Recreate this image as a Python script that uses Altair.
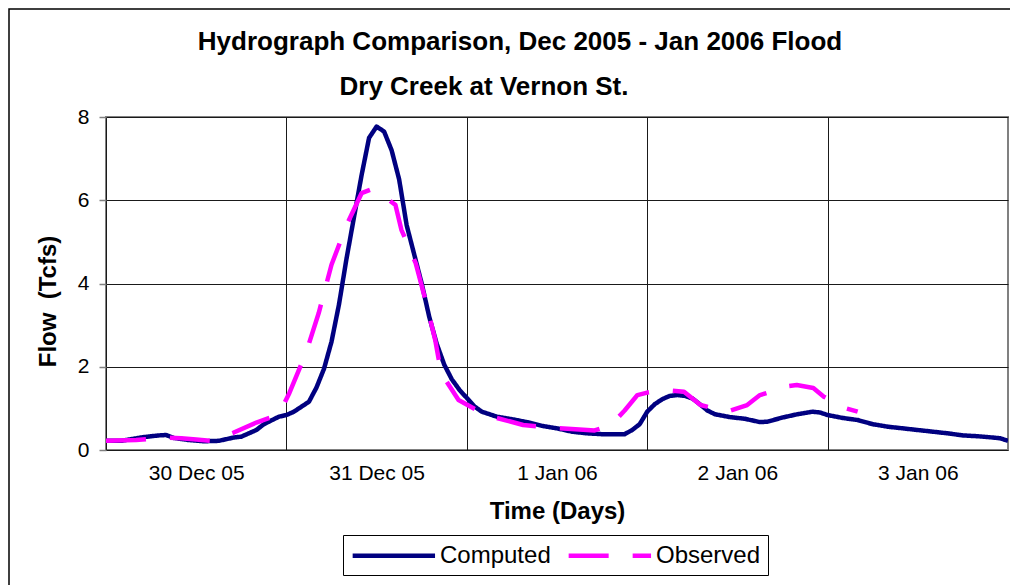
import altair as alt
import pandas as pd

# ---- data (hours since 30 Dec 2005 00:00, flow in Tcfs) ----
computed_hours = [0, 2, 4, 5, 7, 8, 9, 11, 13, 15, 17, 18, 20, 21, 23, 24, 25, 27, 28, 29,
                  30, 31, 32, 33, 34, 35, 36, 37, 38, 39, 40, 41, 42, 43, 44, 45, 46, 47, 48, 49,
                  50, 52, 54, 56, 58, 60, 62, 64, 66, 68, 69, 70, 71, 72, 73, 74, 75, 76, 77, 78,
                  79, 80, 81, 83, 85, 87, 88, 90, 92, 94, 95, 96, 98, 100, 102, 104, 106, 108, 110,
                  112, 114, 116, 118, 119, 120]
computed_flow = [0.22, 0.22, 0.28, 0.31, 0.35, 0.36, 0.29, 0.24, 0.21, 0.22, 0.30, 0.32, 0.48, 0.62,
                 0.80, 0.84, 0.92, 1.16, 1.50, 1.95, 2.6, 3.5, 4.6, 5.6, 6.6, 7.5, 7.77, 7.65, 7.2,
                 6.5, 5.4, 4.7, 4.0, 3.2, 2.55, 2.05, 1.7, 1.45, 1.25, 1.05, 0.92, 0.80, 0.74, 0.67,
                 0.58, 0.52, 0.44, 0.40, 0.38, 0.38, 0.38, 0.48, 0.62, 0.92, 1.10, 1.22, 1.30, 1.32,
                 1.30, 1.24, 1.10, 0.95, 0.86, 0.79, 0.75, 0.67, 0.68, 0.78, 0.86, 0.92, 0.90, 0.84,
                 0.77, 0.72, 0.62, 0.56, 0.52, 0.48, 0.44, 0.40, 0.35, 0.33, 0.30, 0.28, 0.22]

observed_hours = [0, 4, 8, 10, 12, 14, 17, 20, 23, 24.4, 26.6, 28.3, 30, 32, 34, 35.4, 36.5, 38.5,
                  39.3, 41.2, 42.5, 43.8, 44.6, 46.9, 50, 52, 55.5, 59, 64, 65, 67.2, 69, 70.7, 72,
                  74.3, 76.9, 79.1, 82.6, 85.3, 87, 88.5, 90.2, 91.9, 94.1, 95.5, 98.5, 100]
observed_flow = [0.22, 0.24, 0.30, 0.28, 0.25, 0.22, 0.42, 0.66, 0.85, 1.37, 2.33, 3.29, 4.45, 5.40,
                 6.17, 6.27, 6.15, 5.89, 5.29, 4.49, 3.60, 2.64, 1.84, 1.20, 0.89, 0.77, 0.60, 0.54,
                 0.48, 0.47, 0.60, 0.95, 1.32, 1.38, 1.44, 1.40, 1.08, 0.92, 1.08, 1.32, 1.40, 1.52,
                 1.56, 1.49, 1.28, 1.00, 0.92]

day_ticks = [0, 24, 48, 72, 96]
day_labels = ["30 Dec 05", "31 Dec 05", "1 Jan 06", "2 Jan 06", "3 Jan 06"]
flow_ticks = [0, 2, 4, 6, 8]
series_names = ["Computed", "Observed"]
series_colors = ["#000080", "#FF00FF"]
title_line1 = "Hydrograph Comparison, Dec 2005 - Jan 2006 Flood"
title_line2 = ["Dry Creek at Vernon St."]

df = pd.concat([
    pd.DataFrame({"hour": computed_hours, "flow": computed_flow, "series": "Computed"}),
    pd.DataFrame({"hour": observed_hours, "flow": observed_flow, "series": "Observed"}),
], ignore_index=True)

FONT = "Liberation Sans"
PLOT_W, PLOT_H = 902, 333
FRAME_TOP = -108

label_array = "[" + ",".join("'%s'" % s for s in day_labels) + "]"

# legend symbol: a long horizontal stroke drawn from the entry's left edge
legend = alt.Legend(
    title=None, orient="none", legendX=237, legendY=418, direction="horizontal",
    strokeColor="black", fillColor="white", padding=7, columnPadding=8,
    symbolType="M-1,0H6.6", symbolSize=470, symbolStrokeWidth=4.5, labelOffset=63,
    labelFont=FONT, labelFontSize=24, labelColor="black", labelLimit=300,
)

lines = alt.Chart(df).mark_line(strokeWidth=4.5, strokeJoin="round", clip=True).encode(
    x=alt.X("hour:Q", scale=alt.Scale(domain=[0, 120], nice=False, zero=False),
            axis=alt.Axis(values=day_ticks, title="Time (Days)",
                          labelExpr=label_array + "[datum.value/24]",
                          labelOffset=PLOT_W / 10, labelFlush=False, labelOverlap=False,
                          ticks=False, tickSize=0, domain=False, labelPadding=12,
                          labelBaseline="top", titleY=49, titleBaseline="top",
                          gridColor="#1a1a1a", gridWidth=1)),
    y=alt.Y("flow:Q", scale=alt.Scale(domain=[0, 8], nice=False),
            axis=alt.Axis(values=flow_ticks, title="Flow\u00a0\u00a0(Tcfs)",
                          tickSize=7, tickColor="#808080", tickWidth=1.5, domain=False,
                          labelPadding=10, titleX=-46, titleY=184, titleBaseline="bottom",
                          titleAngle=270, gridColor="#1a1a1a", gridWidth=1)),
    color=alt.Color("series:N", scale=alt.Scale(domain=series_names, range=series_colors),
                    legend=legend),
    strokeDash=alt.StrokeDash("series:N",
                              scale=alt.Scale(domain=series_names, range=[[1, 0], [40, 24]]),
                              legend=legend),
)

# second title line (centred left of the first one, as in the reference)
subtitle = alt.Chart(pd.DataFrame({"t": title_line2})).mark_text(
    font=FONT, fontSize=26, fontWeight="bold", color="black",
    align="center", baseline="alphabetic", clip=False,
).encode(text="t:N", x=alt.value(378), y=alt.value(-22))

# outer chart border (only its left and top sides fall inside the picture)
frame = alt.Chart(pd.DataFrame({"a": [0]})).mark_rect(
    fill=None, stroke="black", strokeWidth=1.5, clip=False
).encode(
    x=alt.value(-97), x2=alt.value(PLOT_W + 20),
    y=alt.value(FRAME_TOP), y2=alt.value(PLOT_H + 140),
)

chart = alt.layer(frame, lines, subtitle).properties(
    width=PLOT_W, height=PLOT_H,
    autosize=alt.AutoSizeParams(type="none"),
    padding={"left": 98, "top": 109, "right": 2, "bottom": 135},
    title=alt.TitleParams(
        text=title_line1,
        anchor="middle", frame="group", dx=-37, offset=FRAME_TOP - 0.75 + 62.5,
        font=FONT, fontSize=26, fontWeight="bold", color="black",
    ),
).configure(
    font=FONT,
    background="white",
).configure_view(
    stroke="#808080", strokeWidth=2,
).configure_axis(
    labelFont=FONT, labelFontSize=21, labelColor="black",
    titleFont=FONT, titleFontSize=24, titleFontWeight="bold", titleColor="black",
    grid=True,
)

chart.save("out.html", embed_options={"renderer": "svg", "actions": False})
